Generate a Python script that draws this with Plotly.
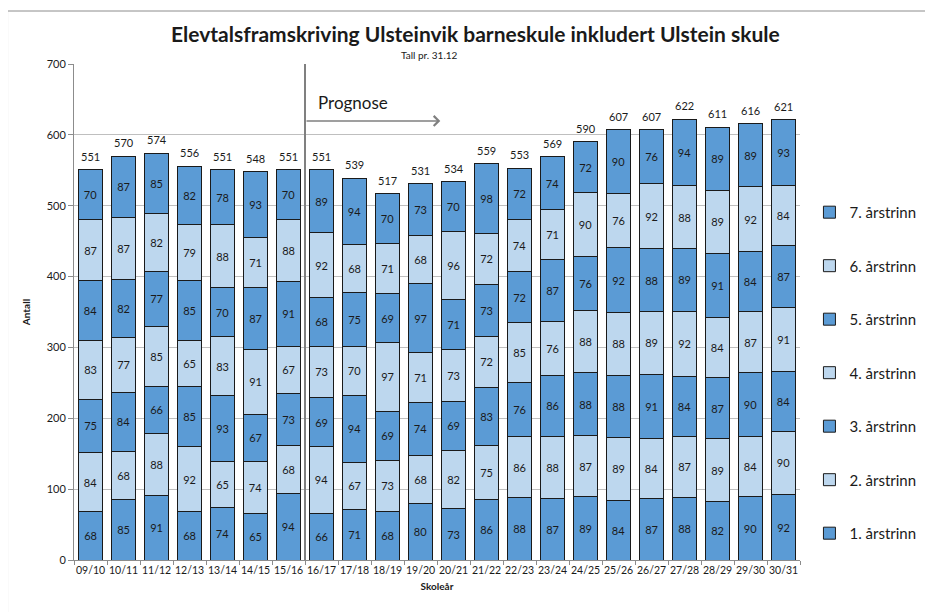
import plotly.graph_objects as go

categories = ["09/10","10/11","11/12","12/13","13/14","14/15","15/16","16/17","17/18","18/19","19/20",
              "20/21","21/22","22/23","23/24","24/25","25/26","26/27","27/28","28/29","29/30","30/31"]

trinn1 = [68,85,91,68,74,65,94,66,71,68,80,73,86,88,87,89,84,87,88,82,90,92]
trinn2 = [84,68,88,92,65,74,68,94,67,73,68,82,75,86,88,87,89,84,87,89,84,90]
trinn3 = [75,84,66,85,93,67,73,69,94,69,74,69,83,76,86,88,88,91,84,87,90,84]
trinn4 = [83,77,85,65,83,91,67,73,70,97,71,73,72,85,76,88,88,89,92,84,87,91]
trinn5 = [84,82,77,85,70,87,91,68,75,69,97,71,73,72,87,76,92,88,89,91,84,87]
trinn6 = [87,87,82,79,88,71,88,92,68,71,68,96,72,74,71,90,76,92,88,89,92,84]
trinn7 = [70,87,85,82,78,93,70,89,94,70,73,70,98,72,74,72,90,76,94,89,89,93]
totals = [551,570,574,556,551,548,551,551,539,517,531,534,559,553,569,590,607,607,622,611,616,621]

series_names = ["1. årstrinn","2. årstrinn","3. årstrinn","4. årstrinn","5. årstrinn","6. årstrinn","7. årstrinn"]
series_values = [trinn1, trinn2, trinn3, trinn4, trinn5, trinn6, trinn7]

DARK = "#5B9BD5"
LIGHT = "#BDD7EE"
FONT = "Lato, 'Open Sans', sans-serif"

fig = go.Figure()
for i, (name, vals) in enumerate(zip(series_names, series_values)):
    color = DARK if i % 2 == 0 else LIGHT
    fig.add_trace(go.Bar(
        x=categories, y=vals, name=name,
        legendgroup=name, legendrank=100 - i,
        marker=dict(color=color, line=dict(color="#1a1a1a", width=1)),
        text=vals, textposition="inside", insidetextanchor="middle",
        textangle=0,
        textfont=dict(size=11, color="#1a1a1a", family=FONT),
        constraintext="none",
    ))

for c, t in zip(categories, totals):
    fig.add_annotation(x=c, y=t, text=str(t), showarrow=False, yanchor="bottom",
                       yshift=5, font=dict(size=11, color="#1a1a1a", family=FONT))

# Prognose marker
fig.add_shape(type="line", xref="x", yref="paper", x0=6.5, x1=6.5, y0=0, y1=1,
              line=dict(color="#808080", width=2))
fig.add_annotation(x=10.6, y=619.6, ax=6.5, ay=619.6, axref="x", ayref="y", xref="x", yref="y",
                   text="", showarrow=True, arrowhead=4, arrowsize=1.3, arrowwidth=1.5,
                   arrowcolor="#808080", standoff=0, startstandoff=0)
fig.add_annotation(x=6.83, y=645, xref="x", yref="y", text="Prognose", showarrow=False,
                   xanchor="left", yanchor="middle", font=dict(size=17, color="#1a1a1a", family=FONT))

# titles
fig.add_annotation(x=0.553, y=1.062, xref="paper", yref="paper",
                   text="<b>Elevtalsframskriving Ulsteinvik barneskule inkludert Ulstein skule</b>",
                   showarrow=False, xanchor="center", yanchor="middle",
                   font=dict(size=21, color="#1a1a1a", family=FONT))
fig.add_annotation(x=0.489, y=1.019, xref="paper", yref="paper", text="Tall pr. 31.12",
                   showarrow=False, xanchor="center", yanchor="middle",
                   font=dict(size=10, color="#1a1a1a", family=FONT))

# outer border (top and left edges visible in the reference)
bx0 = (7 - 74) / 732
by1 = (560 - 11) / 496
fig.add_shape(type="line", xref="paper", yref="paper", x0=bx0, x1=1.2, y0=by1, y1=by1,
              line=dict(color="#8c8c8c", width=1), layer="below")
fig.add_shape(type="line", xref="paper", yref="paper", x0=bx0, x1=bx0, y0=-0.2, y1=by1,
              line=dict(color="#8c8c8c", width=1), layer="below")

fig.update_layout(
    barmode="stack", bargap=0.25,
    width=925, height=604,
    margin=dict(l=66, r=127, t=56, b=52),
    plot_bgcolor="white", paper_bgcolor="white",
    font=dict(family=FONT, color="#1a1a1a"),
    showlegend=True,
    legend=dict(traceorder="grouped", tracegroupgap=31, x=1.013, y=0.734,
                xanchor="left", yanchor="top", font=dict(size=15, family=FONT, color="#1a1a1a"),
                itemwidth=30),
    xaxis=dict(title=dict(text="<b>Skoleår</b>", font=dict(size=10), standoff=8),
               tickfont=dict(size=10.5), tickangle=0, automargin=False,
               showline=True, linecolor="#8c8c8c", linewidth=1,
               ticks="outside", ticklen=4, tickcolor="#8c8c8c", tickson="boundaries",
               showgrid=False),
    yaxis=dict(title=dict(text="<b>Antall</b>", font=dict(size=10), standoff=14),
               range=[0, 700], dtick=100, tickfont=dict(size=11), automargin=False,
               showline=True, linecolor="#8c8c8c", linewidth=1,
               ticks="outside", ticklen=5, tickcolor="#8c8c8c",
               showgrid=True, gridcolor="#bfbfbf", gridwidth=1, zeroline=False),
    uniformtext=dict(minsize=8, mode="show"),
)

fig.write_html("out.html", config={"displayModeBar": False})
